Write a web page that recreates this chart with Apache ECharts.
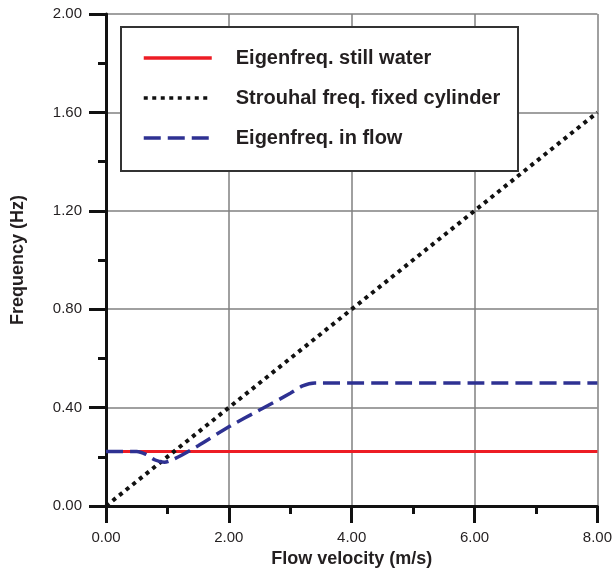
<!DOCTYPE html>
<html>
<head>
<meta charset="utf-8">
<script src="https://cdn.jsdelivr.net/npm/echarts@6/dist/echarts.min.js"></script>
<style>
  html, body { margin: 0; padding: 0; background: #fff; }
  #main { width: 615px; height: 573px; }
</style>
</head>
<body>
<div id="main"></div>
<script>
// data
var velocity = [0, 8];
var stillWater = [0.222, 0.222];
var strouhalV = [0, 8];
var strouhalF = [0, 1.6];
var flowV = [0, 0.5, 0.65, 0.8, 0.95, 1.1, 1.5, 2.0, 2.5, 3.0, 3.2, 3.4, 8];
var flowF = [0.222, 0.222, 0.21, 0.187, 0.178, 0.19, 0.245, 0.322, 0.39, 0.458, 0.488, 0.5, 0.5];
var seriesNames = ['Eigenfreq. still water', 'Strouhal freq. fixed cylinder', 'Eigenfreq. in flow'];

function pairs(xs, ys) {
  return xs.map(function (x, i) { return [x, ys[i]]; });
}

var myChart = echarts.init(document.getElementById('main'));

var axisFont = 'Liberation Sans, Arial, sans-serif';

var option = {
  animation: false,
  grid: { left: 106, right: 15, top: 14, bottom: 66 },
  xAxis: {
    type: 'value',
    min: 0, max: 8, interval: 2,
    name: 'Flow velocity (m/s)',
    nameLocation: 'middle',
    nameGap: 44,
    nameTextStyle: { fontFamily: axisFont, fontWeight: 'bold', fontSize: 18, color: '#231f20' },
    axisLine: { onZero: false, lineStyle: { color: '#111', width: 3 } },
    axisTick: { length: 17, lineStyle: { color: '#111', width: 3 } },
    minorTick: { show: true, splitNumber: 2, length: 8, lineStyle: { color: '#111', width: 3 } },
    axisLabel: {
      margin: 24,
      fontFamily: axisFont, fontSize: 15, color: '#231f20',
      formatter: function (v) { return v.toFixed(2); }
    },
    splitLine: { show: true, lineStyle: { color: '#808080', width: 1.5 } }
  },
  yAxis: {
    type: 'value',
    min: 0, max: 2, interval: 0.4,
    name: 'Frequency (Hz)',
    nameLocation: 'middle',
    nameGap: 79,
    nameTextStyle: { fontFamily: axisFont, fontWeight: 'bold', fontSize: 18, color: '#231f20' },
    axisLine: { lineStyle: { color: '#111', width: 3 } },
    axisTick: { length: 17, lineStyle: { color: '#111', width: 3 } },
    minorTick: { show: true, splitNumber: 2, length: 8, lineStyle: { color: '#111', width: 3 } },
    axisLabel: {
      margin: 24,
      fontFamily: axisFont, fontSize: 15, color: '#231f20',
      formatter: function (v) { return v.toFixed(2); }
    },
    splitLine: { show: true, lineStyle: { color: '#808080', width: 1.5 } }
  },
  // legend box
  graphic: [{
    type: 'rect',
    z: 3,
    shape: { x: 121, y: 27, width: 397, height: 144 },
    style: { fill: '#fff', stroke: '#333', lineWidth: 2 }
  }],
  legend: {
    z: 5,
    orient: 'vertical',
    left: 142,
    top: 47,
    padding: 0,
    itemWidth: 68,
    itemHeight: 14,
    itemGap: 18,
    data: seriesNames,
    itemStyle: { opacity: 0 },
    lineStyle: { width: 3.5 },
    textStyle: {
      fontFamily: axisFont, fontWeight: 'bold', fontSize: 20, color: '#231f20',
      lineHeight: 22, padding: [0, 0, 0, 19]
    }
  },
  series: [{
    name: seriesNames[0],
    type: 'line',
    symbol: 'none',
    data: pairs(velocity, stillWater),
    lineStyle: { color: '#ed1c24', width: 3 },
    itemStyle: { color: '#ed1c24' }
  }, {
    name: seriesNames[1],
    type: 'line',
    symbol: 'none',
    data: pairs(strouhalV, strouhalF),
    lineStyle: { color: '#111', width: 4, type: [4, 4.5] },
    itemStyle: { color: '#111' }
  }, {
    name: seriesNames[2],
    type: 'line',
    symbol: 'none',
    smooth: 0.3,
    data: pairs(flowV, flowF),
    lineStyle: { color: '#2e3192', width: 3.5, type: [17, 7] },
    itemStyle: { color: '#2e3192' }
  }]
};

myChart.setOption(option);
</script>
</body>
</html>
